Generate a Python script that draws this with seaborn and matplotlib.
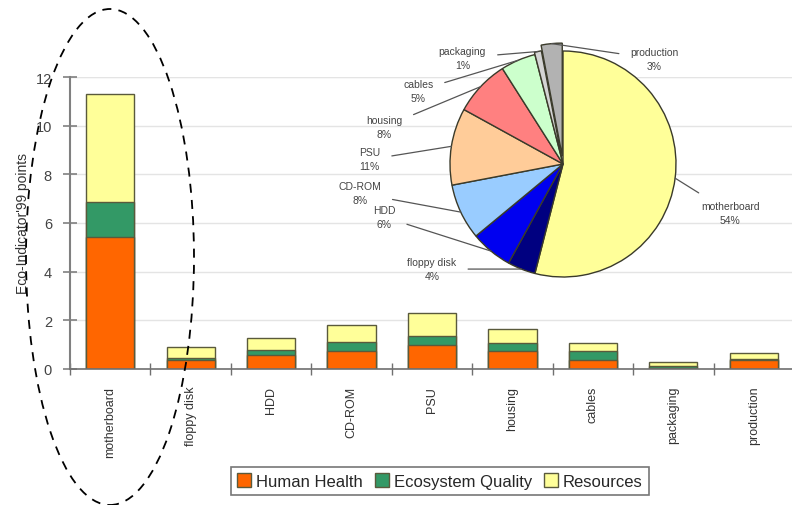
"""Eco-Indicator'99 score per PC component: stacked bars with a share pie inset."""

import matplotlib.pyplot as plt
from matplotlib.patches import Ellipse, Patch
import numpy as np
import seaborn as sns

components = ["motherboard", "floppy disk", "HDD", "CD-ROM", "PSU",
              "housing", "cables", "packaging", "production"]
human_health = [5.43, 0.38, 0.56, 0.75, 0.97, 0.72, 0.35, 0.05, 0.38]
ecosystem_quality = [1.44, 0.07, 0.23, 0.36, 0.37, 0.35, 0.37, 0.08, 0.04]
resources = [4.45, 0.44, 0.48, 0.68, 0.98, 0.58, 0.35, 0.14, 0.24]

pie_share = [54, 4, 6, 8, 11, 8, 5, 1, 3]
pie_colors = ["#FFFF99", "#000080", "#0000F0", "#99CCFF", "#FFCC99",
              "#FF8080", "#CCFFCC", "#D4D4D4", "#B2B2B2"]
# where each pie label sits, in pie units (radius = 1)
pie_label_pos = [(1.48, -0.43), (-1.16, -0.93), (-1.58, -0.47), (-1.80, -0.26),
                 (-1.71, 0.04), (-1.58, 0.33), (-1.28, 0.65), (-0.89, 0.94),
                 (0.81, 0.93)]

ORANGE = "#FF6600"
GREEN = "#339966"
YELLOW = "#FFFF99"
EDGE = "#5a5a3c"

sns.set_theme(style="white")
plt.rcParams["font.family"] = ["Liberation Sans", "DejaVu Sans"]

fig = plt.figure(figsize=(7.92, 5.06), dpi=100)
ax = fig.add_axes([70 / 792, 1 - 370 / 506, 724 / 792, 292 / 506])

hh = np.array(human_health)
eq = np.array(ecosystem_quality)
rs = np.array(resources)

for values, color in [(hh + eq + rs, YELLOW), (hh + eq, GREEN), (hh, ORANGE)]:
    sns.barplot(x=components, y=values, color=color, width=0.6, ax=ax,
                edgecolor=EDGE, linewidth=1.0, saturation=1)

ax.set_xlim(-0.5, 8.5)
ax.set_ylim(0, 12)
ax.set_yticks(range(0, 13, 2))
ax.yaxis.grid(True, color="#e4e4e4", linewidth=1.0)
ax.set_axisbelow(True)
ax.axhline(12, color="#c8c8c8", linewidth=1.5, zorder=0)
for side in ["top", "right"]:
    ax.spines[side].set_visible(False)
ax.spines["left"].set_color("#808080")
ax.spines["left"].set_linewidth(1.5)
ax.spines["bottom"].set_color("#707070")
ax.spines["bottom"].set_linewidth(1.2)

ax.set_xticks(np.arange(len(components)))
ax.set_xticklabels(components, rotation=90, fontsize=9, color="#333333")
ax.tick_params(axis="x", which="major", bottom=True, length=0, pad=12)
ax.set_xticks(np.arange(len(components)) - 0.5, minor=True)
ax.tick_params(axis="x", which="minor", bottom=True, direction="inout",
               length=8, width=1.0, color="#707070")
ax.tick_params(axis="y", left=True, direction="inout", length=10, width=1.2,
               color="#808080", labelsize=10.5, labelcolor="#444444", pad=8)
ax.set_ylabel("Eco-Indicator'99 points", fontsize=10, color="#333333", labelpad=4)
ax.set_xlabel("")

legend_handles = [Patch(facecolor=ORANGE, edgecolor=EDGE, label="Human Health"),
                  Patch(facecolor=GREEN, edgecolor=EDGE, label="Ecosystem Quality"),
                  Patch(facecolor=YELLOW, edgecolor=EDGE, label="Resources")]
leg = fig.legend(handles=legend_handles, loc="center", ncol=3,
                 bbox_to_anchor=(440 / 792, 1 - 482 / 506), fontsize=12,
                 frameon=True, fancybox=False, edgecolor="#555555",
                 handlelength=0.85, handleheight=0.85, handletextpad=0.3,
                 columnspacing=0.7, borderpad=0.35, borderaxespad=0)
leg.get_frame().set_linewidth(1.2)

# pie inset
r_px = 113
cx, cy = 563, 165
pax = fig.add_axes([(cx - r_px) / 792, 1 - (cy + r_px) / 506,
                    2 * r_px / 792, 2 * r_px / 506])
explode = [0, 0, 0, 0, 0, 0, 0, 0.02, 0.07]
wedges, _ = pax.pie(pie_share, colors=pie_colors, startangle=90,
                    counterclock=False, explode=explode,
                    wedgeprops=dict(edgecolor="#3a3a2a", linewidth=1.0))
pax.set_xlim(-1, 1)
pax.set_ylim(-1, 1)
pax.set_aspect("equal")
pax.axis("off")
for w in wedges:
    w.set_clip_on(False)

for w, name, share, pos in zip(wedges, components, pie_share, pie_label_pos):
    ang = np.deg2rad((w.theta1 + w.theta2) / 2)
    cxw, cyw = w.center
    tip = (cxw + np.cos(ang), cyw + np.sin(ang))
    pax.annotate(f"{name}\n{share}%", xy=tip, xytext=pos, ha="center",
                 va="center", fontsize=7.5, color="#444444", linespacing=1.5,
                 annotation_clip=False,
                 arrowprops=dict(arrowstyle="-", color="#555555", lw=0.9,
                                 shrinkA=6, shrinkB=0))

fig.add_artist(Ellipse((110 / 792, 1 - 258 / 506), 168 / 792, 496 / 506,
                       transform=fig.transFigure, fill=False, edgecolor="black",
                       linestyle=(0, (5, 4)), linewidth=1.3))

fig.savefig("out.png", dpi=100)
